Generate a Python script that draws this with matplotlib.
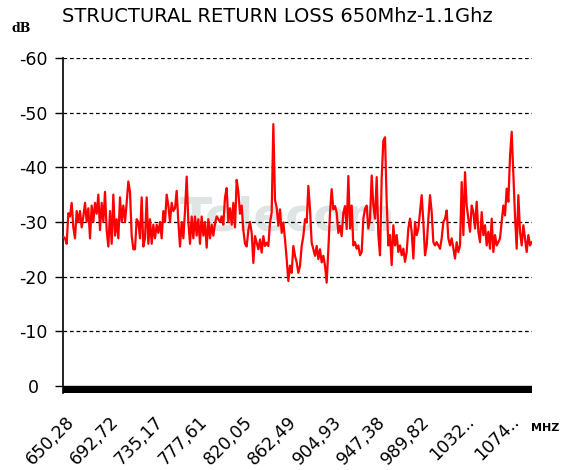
import numpy as np
import matplotlib.pyplot as plt

plt.rcParams['axes.unicode_minus'] = False
plt.rcParams['font.family'] = ['DejaVu Sans']

# -----------------------------
# data read off the sweep (dB), 650 MHz -> 1.1 GHz
# -----------------------------
srl_db = [
    -27.3, -27.0, -26.0, -31.6, -31.0, -33.5, -29.0, -27.0, -32.0, -30.0,
    -32.0, -29.0, -31.0, -33.5, -30.0, -32.5, -27.0, -33.0, -30.0, -33.5,
    -31.5, -35.0, -28.5, -33.5, -30.0, -35.5, -28.5, -25.5, -32.0, -26.0,
    -35.0, -27.5, -30.5, -27.0, -34.5, -30.0, -33.0, -30.0, -33.5, -37.4,
    -35.5, -27.5, -25.0, -25.0, -30.5, -30.0, -27.0, -34.5, -25.5, -27.0,
    -34.5, -26.0, -30.5, -26.0, -29.5, -27.0, -29.5, -28.0,
    -30.0, -27.0, -32.0, -30.0, -35.0, -33.0, -30.0, -33.5, -32.0, -32.5,
    -35.7, -30.0, -25.5, -30.0, -27.0, -32.0, -38.3, -30.0, -26.0, -31.0,
    -27.0, -31.0, -27.5, -30.5, -26.0, -31.0, -27.5, -30.0, -25.3, -30.5,
    -27.0, -29.5, -27.5, -29.7, -31.0, -30.5, -30.0, -31.0, -29.5, -34.5,
    -36.2, -30.0, -32.5, -29.5, -33.5, -29.0, -37.7, -35.5, -31.5, -33.0,
    -28.5, -26.0, -25.5, -28.5, -30.0, -28.0, -22.5,
    -27.4, -26.2, -25.0, -26.8, -24.4, -27.4, -25.6, -26.2, -25.6, -29.9,
    -31.7, -47.9, -34.0, -32.6, -29.3, -32.3, -28.0, -29.9, -26.8, -23.2,
    -19.2, -22.0, -20.7, -25.6, -23.8, -22.6, -20.7, -22.0, -25.6, -27.4,
    -30.5, -29.9, -36.6, -32.3, -26.2, -25.0, -23.8, -25.6, -23.2, -25.0,
    -22.6, -23.8, -22.0, -18.9, -25.0, -31.7, -36.0, -32.3, -32.9, -31.7,
    -28.0, -29.3, -27.4, -31.7, -32.9, -28.7, -38.4,
    -28.8, -33.0, -25.7, -26.3, -25.1, -25.7, -23.9, -24.5, -30.6, -32.4,
    -33.0, -28.8, -30.6, -38.5, -33.0, -30.6, -38.2, -27.6, -23.9, -38.0,
    -44.9, -45.5, -33.7, -25.7, -27.6, -22.1, -29.4, -25.7, -27.6, -24.5,
    -25.7, -23.9, -25.1, -22.7, -24.5, -28.8, -30.6, -28.2, -23.3, -30.0,
    -27.6, -28.8, -31.8, -34.9, -30.0, -23.9, -25.7, -30.6, -34.9, -31.8,
    -26.3, -25.7, -26.3, -25.7, -25.1, -27.0, -30.0,
    -30.6, -32.1, -27.0, -25.7, -27.0, -25.1, -23.3, -26.3, -24.5, -25.7,
    -37.3, -27.6, -39.1, -33.0, -30.6, -28.2, -33.0, -31.8, -28.8, -33.7,
    -28.2, -26.3, -31.8, -27.6, -29.4, -25.7, -28.2, -25.1, -30.6, -24.5,
    -27.6, -25.7, -26.3, -27.0, -30.0, -33.0, -31.2, -36.1, -33.7, -42.0,
    -46.5, -39.0, -31.0, -25.1, -34.9, -28.2, -25.7, -29.4, -27.0, -24.5,
    -27.6, -25.7, -26.3,
]
f_start, f_stop = 648.69, 1095.40
freq = np.linspace(f_start, f_stop, len(srl_db))

tick_freqs = [650.28 + 42.444 * k for k in range(11)]
tick_labels = ["650,28", "692,72", "735,17", "777,61", "820,05", "862,49",
               "904,93", "947,38", "989,82", "1032..", "1074.."]
y_ticks = [0, -10, -20, -30, -40, -50, -60]

# -----------------------------
# figure
# -----------------------------
fig = plt.figure(figsize=(5.67, 4.70), dpi=100)
ax = fig.add_axes([63 / 567, 1 - 393 / 470, (532 - 63) / 567, (393 - 58) / 470])

ax.set_xlim(648.37, 1095.7)
ax.set_ylim(1.3, -60)

# faint logo in the background
ax.text(863, -30.7, "Telecom", color="#dfe4e4", fontsize=34, fontweight="bold",
        ha="center", va="center", zorder=1)

for v in y_ticks[1:]:
    ax.axhline(v, color="black", lw=0.9, dashes=(3, 2.2), zorder=2)

ax.plot(freq, srl_db, color="#ff0000", lw=1.6, zorder=3)

# black floor at 0 dB
ax.axhspan(0, 1.3, color="black", zorder=4)

for s in ["top", "right", "bottom"]:
    ax.spines[s].set_visible(False)
ax.spines["left"].set_linewidth(1.2)

ax.set_yticks(y_ticks)
ax.set_yticklabels([str(v) for v in y_ticks])
ax.tick_params(axis="y", length=5.8, width=1, pad=15.8, labelsize=12.5)
for lbl in ax.get_yticklabels():
    lbl.set_ha("center")

ax.set_xticks(tick_freqs)
ax.set_xticklabels(tick_labels, rotation=45, ha="right", va="top",
                   rotation_mode="anchor")
ax.tick_params(axis="x", length=0, pad=14, labelsize=12.5)

fig.text(277 / 567, 1 - 17 / 470, "STRUCTURAL RETURN LOSS 650Mhz-1.1Ghz",
         ha="center", va="center", fontsize=14)
fig.text(21 / 567, 1 - 28 / 470, "dB", ha="center", va="center", fontsize=9,
         fontweight="bold", family="DejaVu Serif")
fig.text(545 / 567, 1 - 428 / 470, "MHZ", ha="center", va="center", fontsize=8,
         fontweight="bold")

fig.savefig("out.png", dpi=100)
